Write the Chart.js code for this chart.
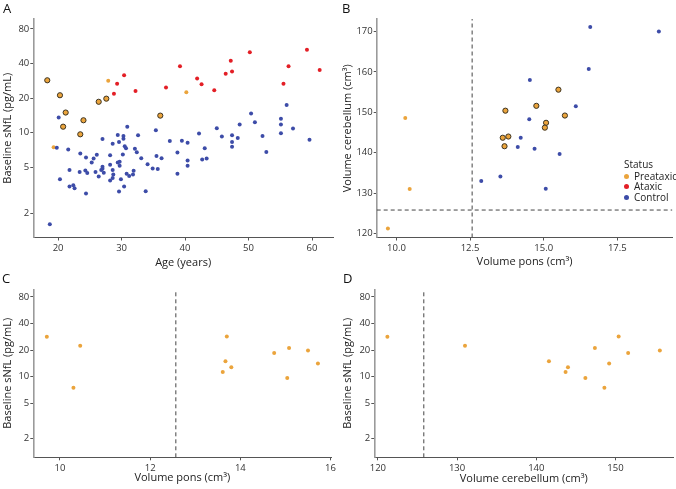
<!DOCTYPE html>
<html>
<head>
<meta charset="utf-8">
<script src="https://cdn.jsdelivr.net/npm/chart.js@4.4.0/dist/chart.umd.min.js"></script>
<style>
body { margin: 0; background: #fff; font-family: "Open Sans", sans-serif; }
#wrap { position: relative; width: 676px; height: 489px; overflow: hidden; }
canvas { position: absolute; }
.tag { position: absolute; font-size: 13px; line-height: 13px; color: #111; }
#legend { position: absolute; left: 618px; top: 159px; font-size: 10px; color: #222; line-height: 10.5px; }
#legend .row { position: relative; padding-left: 16px; }
#legend .dot { position: absolute; left: 6px; top: 3px; width: 5px; height: 5px; border-radius: 50%; }
</style>
</head>
<body>
<div id="wrap">
  <canvas id="cA" width="338" height="270" style="left:0;top:0"></canvas>
  <canvas id="cB" width="338" height="270" style="left:338px;top:0"></canvas>
  <canvas id="cC" width="338" height="219" style="left:0;top:270px"></canvas>
  <canvas id="cD" width="338" height="219" style="left:338px;top:270px"></canvas>
  <div class="tag" style="left:3px;top:2px">A</div>
  <div class="tag" style="left:342px;top:2px">B</div>
  <div class="tag" style="left:2px;top:272px">C</div>
  <div class="tag" style="left:343px;top:272px">D</div>
  <div id="legend">
    <div style="padding-left:6px;margin-bottom:1px">Status</div>
    <div class="row"><span class="dot" style="background:#eba43c"></span>Preataxic</div>
    <div class="row"><span class="dot" style="background:#e31f26"></span>Ataxic</div>
    <div class="row"><span class="dot" style="background:#3d4ca8"></span>Control</div>
  </div>
</div>
<script>
// ---- data ----
var ctrlAge = [18.7,19.8,20.1,20.3,21.6,21.8,21.8,22.4,22.6,23.5,24.3,23.4,24.4,24.6,24.4,25.3,25.6,25.9,26.1,26.4,26.8,27.0,27.0,27.0,27.2,28.2,28.2,28.6,28.2,28.6,28.6,28.7,29.4,29.6,29.4,29.7,29.7,29.6,29.9,30.3,30.3,30.2,30.4,30.5,30.7,30.8,30.9,31.2,31.9,31.8,32.1,32.4,32.6,33.1,33.8,34.1,34.9,35.4,35.5,35.7,36.3,37.6,38.8,38.8,39.5,40.4,40.4,40.4,42.2,42.7,43.1,43.4,45.0,45.8,47.4,47.4,47.4,48.3,48.6,50.4,51.0,52.2,52.8,55.1,55.1,55.1,56.0,57.0,59.6];
var ctrlNfl = [1.6,7.4,13.6,3.94,7.14,4.74,3.41,3.5,3.3,6.6,4.71,4.56,6.1,4.47,2.97,5.52,5.97,4.56,6.43,4.16,4.74,5.07,4.87,8.82,4.5,6.38,5.27,8.04,3.84,4.05,4.74,4.35,9.55,8.31,5.52,5.6,5.17,3.09,3.94,9.4,8.88,6.47,3.41,7.63,7.33,4.41,11.3,4.21,4.68,4.34,7.28,6.78,9.5,6.02,3.11,5.34,4.9,10.5,6.3,4.84,6.02,8.48,6.73,4.41,8.53,8.2,5.75,5.17,9.87,5.86,7.33,5.97,10.96,9.3,9.5,8.31,7.58,9.0,11.8,14.7,12.35,9.36,6.82,13.27,11.8,9.93,17.4,10.9,8.7];

var ataxAge = [29.3,30.4,28.8,32.2,37.0,39.2,41.9,42.6,44.6,46.4,47.2,47.4,50.2,55.5,56.3,59.2,61.2];
var ataxNfl = [26.7,31.7,21.8,23.1,24.7,37.9,29.7,26.4,23.4,32.6,42.2,34.1,50.1,26.7,37.9,52.8,35.1];

var preAge  = [27.9,40.2,19.3,18.3,21.2,24.0,20.8,26.4,20.3,23.5,27.6,36.1];
var preNfl  = [28.3,22.5,7.5,28.6,15.0,12.85,11.3,18.6,21.2,9.7,19.8,14.1];
var prePons = [9.71,10.45,10.30,13.70,13.67,13.80,13.61,14.75,15.08,15.04,15.50,15.72];
var preCb   = [121.2,131.0,148.6,150.4,141.6,144.0,143.7,151.6,147.4,146.2,155.6,149.2];

var ctrlPons = [12.88,13.53,14.12,14.22,14.51,14.53,14.69,15.07,15.54,16.09,16.53,16.58,18.91];
var ctrlCb   = [133.0,134.1,141.4,143.7,148.3,158.0,141.0,131.1,139.7,151.5,160.7,171.1,170.0];

var ponsCut = 12.57;
var cbCut = 125.8;

var nflTicks = [2, 5, 10, 20, 40, 80];
var ageTicks = [20, 30, 40, 50, 60];
var ponsTicksB = [10, 12.5, 15, 17.5];
var cbTicksB = [120, 130, 140, 150, 160, 170];
var ponsTicksC = [10, 12, 14, 16];
var cbTicksD = [120, 130, 140, 150];

// ---- colours ----
var orange = '#eba43c';
var red = '#e31f26';
var blue = '#3d4ca8';

function pairs(xs, ys, keep) {
  var out = [];
  for (var i = 0; i < xs.length; i++) {
    if (!keep || keep(i)) out.push({x: xs[i], y: ys[i]});
  }
  return out;
}
function isOut(i) { return prePons[i] > ponsCut; }
function isIn(i) { return prePons[i] <= ponsCut; }

function dots(data, color, outlined) {
  return {
    data: data,
    backgroundColor: color,
    borderColor: outlined ? '#3b3322' : color,
    borderWidth: outlined ? 1 : 0,
    pointRadius: outlined ? 2.6 : 2,
    pointHoverRadius: outlined ? 2.6 : 2
  };
}
function dashed(data) {
  return {
    data: data,
    showLine: true,
    pointRadius: 0,
    borderColor: '#444',
    borderWidth: 1,
    borderDash: [4, 3],
    fill: false
  };
}

function axis(o) {
  var s = {
    type: o.type || 'linear',
    min: o.min,
    max: o.max,
    border: {display: true, color: o.vertical ? '#9a9a9a' : '#555', width: o.vertical ? 1.6 : 1},
    grid: {display: true, drawOnChartArea: false, drawTicks: true, tickLength: 3, color: '#555'},
    ticks: {
      color: '#333',
      padding: o.vertical ? 1 : 2,
      font: {family: 'Open Sans', size: 9.5},
      autoSkip: false,
      maxRotation: 0,
      callback: function(v) { return o.fmt ? o.fmt(v) : String(v); }
    },
    title: {
      display: true,
      text: o.title,
      color: '#222',
      font: {family: 'Open Sans', size: 11},
      padding: o.tpad
    },
    afterBuildTicks: function(sc) {
      sc.ticks = o.ticks.map(function(v) { return {value: v}; });
    },
    afterFit: function(sc) {
      if (o.vertical) sc.width = o.size; else sc.height = o.size;
    }
  };
  return s;
}

function makeChart(id, datasets, pad, xOpt, yOpt) {
  return new Chart(document.getElementById(id), {
    type: 'scatter',
    data: {datasets: datasets},
    options: {
      responsive: false,
      animation: false,
      events: [],
      layout: {padding: pad},
      plugins: {legend: {display: false}, tooltip: {enabled: false}},
      scales: {x: axis(xOpt), y: axis(yOpt)}
    }
  });
}

var nflMin = 1.23, nflMax = 97.5;

// Panel A
makeChart('cA', [
  dots(pairs(ctrlAge, ctrlNfl), blue),
  dots(pairs(ataxAge, ataxNfl), red),
  dots(pairs(preAge, preNfl, isIn), orange),
  dots(pairs(preAge, preNfl, isOut), orange, true)
], {top: 19, right: 5, left: 0, bottom: 0},
  {min: 16.1, max: 63.3, ticks: ageTicks, title: 'Age (years)', size: 32.5, tpad: {top: 0, bottom: 0.4}},
  {type: 'logarithmic', vertical: true, min: nflMin, max: nflMax, ticks: nflTicks, title: 'Baseline sNfL (pg/mL)', size: 33.3, tpad: {top: 1.1, bottom: 0}}
);

// Panel B
var bxMin = 9.33, bxMax = 19.37, byMin = 119.0, byMax = 173.1;
makeChart('cB', [
  dashed([{x: ponsCut, y: byMin}, {x: ponsCut, y: byMax}]),
  dashed([{x: bxMin, y: cbCut}, {x: bxMax, y: cbCut}]),
  dots(pairs(ctrlPons, ctrlCb), blue),
  dots(pairs(prePons, preCb, isIn), orange),
  dots(pairs(prePons, preCb, isOut), orange, true)
], {top: 19, right: 2.7, left: 0, bottom: 0},
  {min: bxMin, max: bxMax, ticks: ponsTicksB, title: 'Volume pons (cm\u00b3)', size: 32.5, tpad: {top: 0, bottom: 1.7},
   fmt: function(v) { return v.toFixed(1); }},
  {vertical: true, min: byMin, max: byMax, ticks: cbTicksB, title: 'Volume cerebellum (cm\u00b3)', size: 38.7, tpad: {top: 3.1, bottom: 0}}
);

// Panel C
var cxMin = 9.41, cxMax = 16.02;
makeChart('cC', [
  dashed([{x: ponsCut, y: nflMin}, {x: ponsCut, y: nflMax}]),
  dots(pairs(prePons, preNfl), orange)
], {top: 19.3, right: 4.7, left: 0, bottom: 0},
  {min: cxMin, max: cxMax, ticks: ponsTicksC, title: 'Volume pons (cm\u00b3)', size: 31.7, tpad: {top: 0, bottom: 4.1}},
  {type: 'logarithmic', vertical: true, min: nflMin, max: nflMax, ticks: nflTicks, title: 'Baseline sNfL (pg/mL)', size: 33.3, tpad: {top: 1.4, bottom: 0}}
);

// Panel D
var dxMin = 119.55, dxMax = 157.3;
makeChart('cD', [
  dashed([{x: cbCut, y: nflMin}, {x: cbCut, y: nflMax}]),
  dots(pairs(preCb, preNfl), orange)
], {top: 19.3, right: 2.7, left: 0, bottom: 0},
  {min: dxMin, max: dxMax, ticks: cbTicksD, title: 'Volume cerebellum (cm\u00b3)', size: 31.7, tpad: {top: 0, bottom: 3.4}},
  {type: 'logarithmic', vertical: true, min: nflMin, max: nflMax, ticks: nflTicks, title: 'Baseline sNfL (pg/mL)', size: 36.3, tpad: {top: 3.1, bottom: 0}}
);
</script>
</body>
</html>
